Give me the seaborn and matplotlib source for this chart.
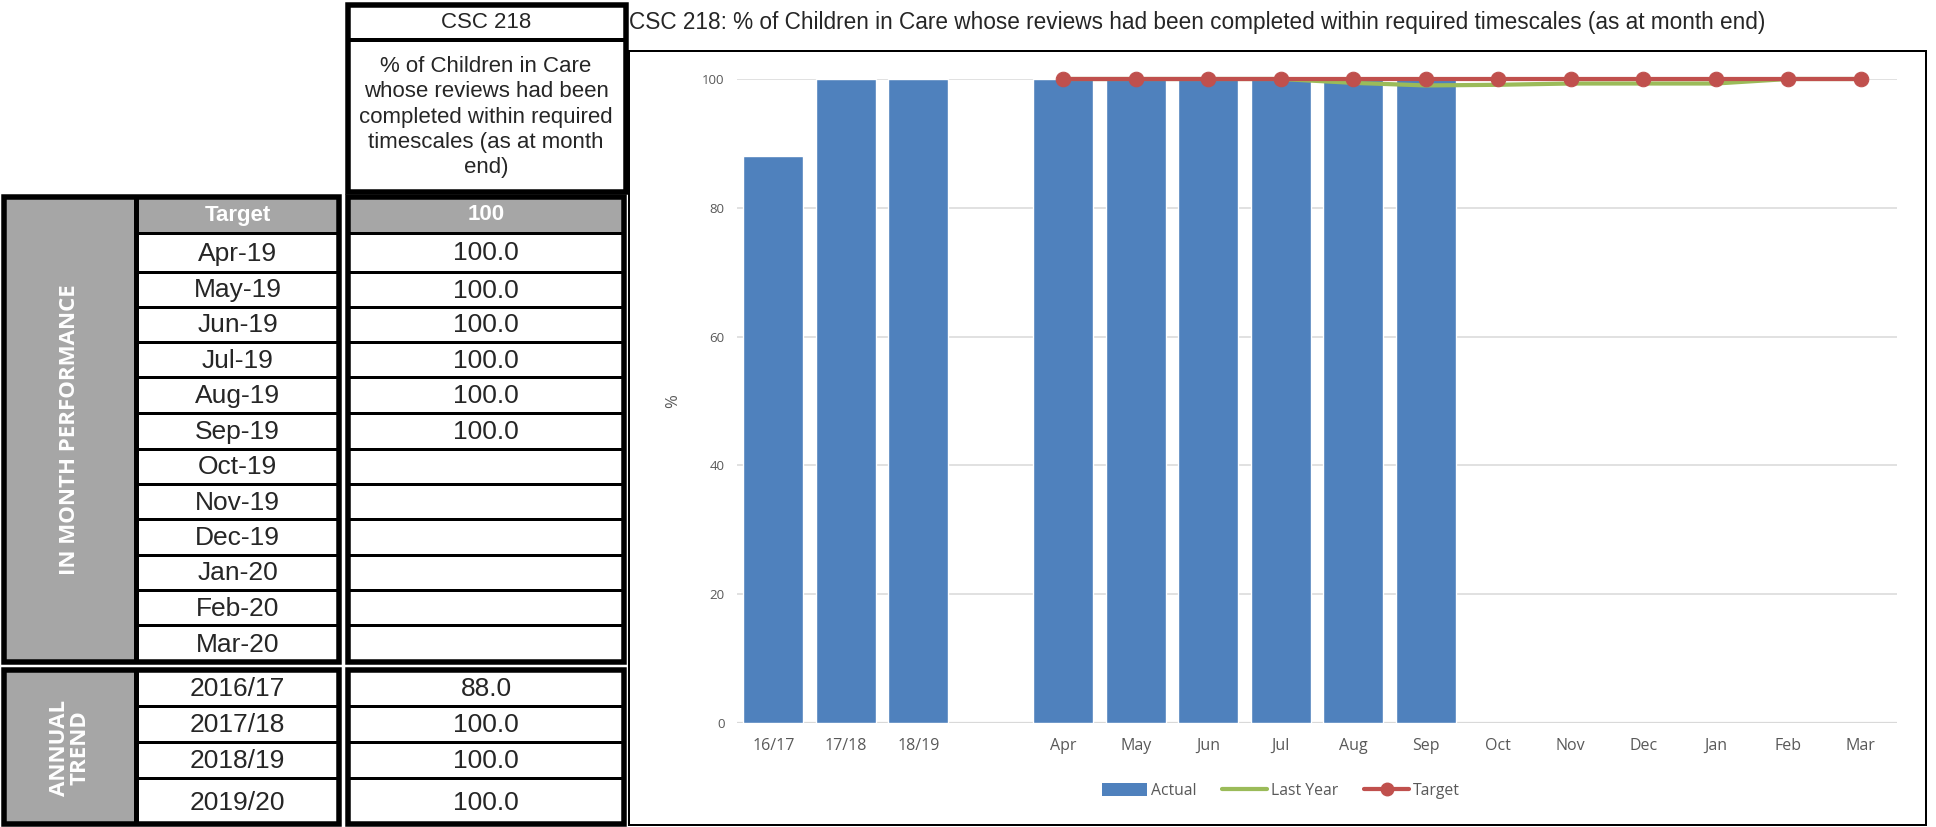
import numpy as np
import pandas as pd
import matplotlib
matplotlib.use("Agg")
import matplotlib.pyplot as plt
from matplotlib.patches import Rectangle, Patch
from matplotlib.lines import Line2D
import seaborn as sns

# ---------------- data ----------------
indicator_code = "CSC 218"
indicator_desc = ("% of Children in Care\nwhose reviews had been\ncompleted within required\n"
                  "timescales (as at month\nend)")
chart_title = ("CSC 218: % of Children in Care whose reviews had been completed "
               "within required timescales (as at month end)")
target_label = "Target"
target_value = 100

months = ["Apr-19", "May-19", "Jun-19", "Jul-19", "Aug-19", "Sep-19",
          "Oct-19", "Nov-19", "Dec-19", "Jan-20", "Feb-20", "Mar-20"]
month_values = [100.0, 100.0, 100.0, 100.0, 100.0, 100.0,
                np.nan, np.nan, np.nan, np.nan, np.nan, np.nan]

years = ["2016/17", "2017/18", "2018/19", "2019/20"]
year_values = [88.0, 100.0, 100.0, 100.0]

year_ticks = ["16/17", "17/18", "18/19"]
month_ticks = ["Apr", "May", "Jun", "Jul", "Aug", "Sep",
               "Oct", "Nov", "Dec", "Jan", "Feb", "Mar"]
last_year = [100.0, 100.0, 100.0, 100.0, 99.4, 99.0,
             99.1, 99.3, 99.3, 99.3, 100.0, 100.0]
monthly_target = [100, 100, 100, 100, 100, 100, 100, 100, 100, 100, 100, 100]

# ---------------- style ----------------
BLUE = "#4F81BD"
GREEN = "#9BBB59"
RED = "#C0504D"
GRAY = "#A6A6A6"
TICK = "#595959"
GRID = "#D9D9D9"

sns.set_theme(style="white")
plt.rcParams["font.family"] = ["Liberation Sans", "DejaVu Sans"]
CHART_FONT = ["Open Sans", "DejaVu Sans"]

W, H = 1936, 827
fig = plt.figure(figsize=(W / 100, H / 100), dpi=100)


def lw(px):
    return px * 72 / 100


# overlay in pixel coordinates for the table and chart frame
ov = fig.add_axes([0, 0, 1, 1])
ov.set_xlim(0, W)
ov.set_ylim(H, 0)
ov.axis("off")


def box(x0, y0, x1, y1, thick=5, fill="none", z=2):
    ov.add_patch(Rectangle((x0, y0), x1 - x0, y1 - y0, facecolor=fill,
                           edgecolor="black" if fill == "none" else "none",
                           lw=lw(thick) if fill == "none" else 0, zorder=z))


def hline(y, x0, x1, thick=3):
    ov.plot([x0, x1], [y, y], color="black", lw=lw(thick), solid_capstyle="butt", zorder=3)


def vline(x, y0, y1, thick=5):
    ov.plot([x, x], [y0, y1], color="black", lw=lw(thick), solid_capstyle="butt", zorder=3)


# column extents
GX0, GX1 = 4, 136      # grey section column
LX0, LX1 = 136, 339    # label column
VX0, VX1 = 348, 624    # value column
LC = (LX0 + LX1) / 2
VC = (VX0 + VX1) / 2

# header boxes
box(VX0, 5, VX1 + 2, 192, thick=5.5)
hline(40, VX0, VX1 + 2, thick=4)
ov.text(VC, 23, indicator_code, ha="center", va="center", fontsize=16)
ov.text(VC, 117, indicator_desc, ha="center", va="center", fontsize=16, linespacing=1.27)

# in-month block
month_edges = [233, 272, 307, 342, 377, 413, 449, 484, 519, 555, 590, 625, 662]
TOP = 197
box(GX0, TOP, GX1, month_edges[-1], fill=GRAY, z=1)
box(LX0, TOP, LX1, month_edges[0], fill=GRAY, z=1)
box(VX0, TOP, VX1, month_edges[0], fill=GRAY, z=1)
for y in month_edges[:-1]:
    hline(y, LX0, LX1)
    hline(y, VX0, VX1)
vline(GX1, TOP, month_edges[-1])
box(GX0, TOP, LX1, month_edges[-1], thick=5.5)
box(VX0, TOP, VX1, month_edges[-1], thick=5.5)

ov.text(LC, (TOP + month_edges[0]) / 2, target_label, ha="center", va="center",
        fontsize=16, fontweight="bold", color="white")
ov.text(VC, (TOP + month_edges[0]) / 2, str(target_value), ha="center", va="center",
        fontsize=16, fontweight="bold", color="white")
for i, (m, v) in enumerate(zip(months, month_values)):
    yc = (month_edges[i] + month_edges[i + 1]) / 2 + 1
    ov.text(LC, yc, m, ha="center", va="center", fontsize=19)
    if not np.isnan(v):
        ov.text(VC, yc, f"{v:.1f}", ha="center", va="center", fontsize=19)
ov.text((GX0 + GX1) / 2, (TOP + month_edges[-1]) / 2, "IN MONTH PERFORMANCE",
        rotation=90, ha="center", va="center", fontsize=16, fontweight="bold",
        color="white", family=["Open Sans", "DejaVu Sans"])

# annual block
year_edges = [670, 706, 742, 778, 825]
box(GX0, year_edges[0], GX1, year_edges[-1], fill=GRAY, z=1)
for y in year_edges[1:-1]:
    hline(y, LX0, LX1)
    hline(y, VX0, VX1)
vline(GX1, year_edges[0], year_edges[-1])
box(GX0, year_edges[0], LX1, year_edges[-1] - 1, thick=5.5)
box(VX0, year_edges[0], VX1, year_edges[-1] - 1, thick=5.5)
for i, (yr, v) in enumerate(zip(years, year_values)):
    yc = (year_edges[i] + year_edges[i + 1]) / 2 + 1
    ov.text(LC, yc, yr, ha="center", va="center", fontsize=19)
    ov.text(VC, yc, f"{v:.1f}", ha="center", va="center", fontsize=19)
ov.text((GX0 + GX1) / 2, (year_edges[0] + year_edges[-1]) / 2, "ANNUAL\nTREND",
        rotation=90, ha="center", va="center", fontsize=16, fontweight="bold",
        color="white", linespacing=1.0, family=["Open Sans", "DejaVu Sans"])

# chart frame and title
ov.add_patch(Rectangle((629, 51), 1926 - 629, 825 - 51, facecolor="none",
                       edgecolor="black", lw=lw(2), zorder=2))
ov.text(629, 22, chart_title, ha="left", va="center", fontsize=16.3)

# ---------------- chart ----------------
categories = year_ticks + [" "] + month_ticks
actual = year_values[:3] + [np.nan] + month_values
pos = np.arange(len(categories))
line_pos = pos[len(year_ticks) + 1:]

chart_df = pd.DataFrame({"category": categories, "actual": actual})

ax = fig.add_axes([737 / W, 1 - 723 / H, 1160 / W, 644 / H])
ax.patch.set_alpha(0)
sns.barplot(data=chart_df, x="category", y="actual", order=categories,
            color=BLUE, saturation=1, width=0.83, errorbar=None, ax=ax, zorder=2)
sns.lineplot(x=line_pos, y=last_year, color=GREEN, lw=lw(4.2), ax=ax,
             zorder=3, clip_on=False)
sns.lineplot(x=line_pos, y=monthly_target, color=RED, lw=lw(4.2), marker="o",
             markersize=10.5, markeredgecolor=RED, ax=ax, zorder=4, clip_on=False)

ax.set_xlim(-0.5, len(categories) - 0.5)
ax.set_ylim(0, 100)
ax.set_yticks([0, 20, 40, 60, 80, 100])
ax.set_xticks(pos)
ax.set_xticklabels(categories)
ax.grid(axis="y", color=GRID, lw=1.1)
ax.set_axisbelow(True)
ax.axhline(0, color=GRID, lw=1.6, zorder=1.5)
for s in ax.spines.values():
    s.set_visible(False)
ax.tick_params(axis="both", length=0, colors=TICK)
ax.tick_params(axis="y", pad=9, labelsize=9.5)
ax.tick_params(axis="x", pad=11, labelsize=11.5)
for t in ax.get_xticklabels() + ax.get_yticklabels():
    t.set_family(CHART_FONT)
ax.set_xlabel("")
ax.set_ylabel("%", color=TICK, fontsize=12, family=CHART_FONT, labelpad=15)
if ax.get_legend() is not None:
    ax.get_legend().remove()

handles = [Patch(facecolor=BLUE, edgecolor="none"),
           Line2D([], [], color=GREEN, lw=lw(4.2)),
           Line2D([], [], color=RED, lw=lw(4.2), marker="o", markersize=9)]
leg = fig.legend(handles, ["Actual", "Last Year", "Target"], loc="center",
                 bbox_to_anchor=(1281 / W, 1 - 791 / H), ncol=3, frameon=False,
                 handlelength=2.9, handleheight=0.9,
                 columnspacing=1.6, handletextpad=0.25,
                 prop={"family": CHART_FONT, "size": 11.3})
for t in leg.get_texts():
    t.set_color(TICK)

fig.savefig("out.png", dpi=100)
